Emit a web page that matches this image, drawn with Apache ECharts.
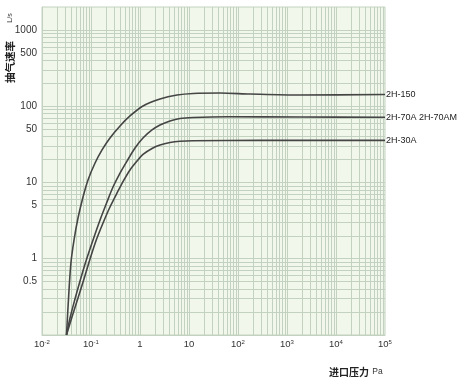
<!DOCTYPE html>
<html>
<head>
<meta charset="utf-8">
<script src="https://cdn.jsdelivr.net/npm/echarts@6/dist/echarts.min.js"></script>
<style>html,body{margin:0;padding:0;background:#fff}#c{width:460px;height:384px}</style>
</head>
<body>
<div id="c"></div>
<script>
// ---- data ----
const seriesNames = ['2H-150', '2H-70A 2H-70AM', '2H-30A'];
const pressure150 = [0.0316, 0.0356, 0.0391, 0.045, 0.0543, 0.0687, 0.0869, 0.121, 0.168, 0.244, 0.391, 0.625, 1.15, 2.56, 5.69, 12.1, 43, 176, 1840, 100000];
const speed150    = [0.1, 0.389, 0.906, 1.76, 3.42, 6.45, 10.8, 18.0, 26.7, 38.3, 55.1, 74.5, 100.7, 124, 140, 147, 149, 144.5, 140, 142.5];
const pressure70  = [0.0316, 0.0373, 0.0471, 0.0597, 0.0791, 0.110, 0.153, 0.212, 0.281, 0.391, 0.543, 0.791, 1.15, 1.76, 2.56, 4.09, 6.55, 12.1, 59.7, 1840, 100000];
const speed70     = [0.1, 0.167, 0.296, 0.511, 0.933, 1.76, 3.22, 5.55, 8.73, 13.3, 19.1, 28.3, 38.3, 48.8, 56.7, 64.0, 69.0, 71.1, 72.6, 72.3, 71.6];
const pressure30  = [0.0316, 0.0409, 0.0543, 0.0719, 0.0955, 0.126, 0.176, 0.244, 0.340, 0.471, 0.625, 0.869, 1.15, 1.76, 2.56, 4.09, 6.55, 12.1, 281, 100000];
const speed30     = [0.1, 0.172, 0.305, 0.542, 0.991, 1.71, 2.94, 4.77, 7.28, 10.8, 14.6, 19.1, 23.3, 27.9, 31.0, 33.4, 34.7, 35.3, 35.6, 35.7];
const yLabelValues = [0.5, 1, 5, 10, 50, 100, 500, 1000];
const xDecades = [-2, -1, 0, 1, 2, 3, 4];
const yDecades = [-1, 0, 1, 2, 3];
const mantissas = [1, 2, 3, 4, 5, 6, 7, 8, 9];

const X_MIN = 0.01, X_MAX = 100000, Y_MIN = 0.1, Y_MAX = 2000;
const sans = "'Liberation Sans', Arial, sans-serif";
const cjk = "'Noto Sans CJK SC', sans-serif";
const gridColor = '#c3d2c0';
const curveColor = '#454545';

function pairs(xs, ys) { return xs.map((x, i) => [x, ys[i]]); }

const vLines = [];
xDecades.forEach(d => mantissas.forEach(m => {
  const v = m * Math.pow(10, d);
  if (v > X_MIN * 1.0001 && v < X_MAX * 0.9999) vLines.push({ xAxis: v });
}));
const hLines = [];
yDecades.forEach(d => mantissas.forEach(m => {
  const v = m * Math.pow(10, d);
  if (v > Y_MIN * 1.0001 && v < Y_MAX * 0.9999) hLines.push({ yAxis: v });
}));

function xLabel(v) {
  const e = Math.round(Math.log10(v));
  if (e === 0) return '1';
  if (e === 1) return '10';
  return '10{s|' + e + '}';
}

function curve(name, xs, ys) {
  return {
    type: 'line', name: name, data: pairs(xs, ys), smooth: 0.3,
    showSymbol: false, symbol: 'none', z: 10,
    lineStyle: { color: curveColor, width: 1.6 },
    endLabel: { show: true, formatter: '{a}', distance: 1, color: '#222', fontSize: 9, fontFamily: sans },
    emphasis: { disabled: true }, animation: false
  };
}

const chart = echarts.init(document.getElementById('c'), null, { renderer: 'canvas' });
chart.setOption({
  backgroundColor: '#ffffff',
  animation: false,
  grid: { left: 42, right: 75, top: 7, bottom: 49, show: true, backgroundColor: '#f1f7ea', borderColor: gridColor, borderWidth: 1, outerBoundsMode: 'none', containLabel: false },
  xAxis: {
    type: 'log', logBase: 10, min: X_MIN, max: X_MAX,
    axisLine: { show: true, lineStyle: { color: gridColor } },
    axisTick: { show: false },
    splitLine: { show: false },
    axisLabel: {
      margin: 4, color: '#333', fontSize: 9.5, fontFamily: sans, formatter: xLabel,
      rich: { s: { fontSize: 6, fontFamily: sans, color: '#333', verticalAlign: 'top', lineHeight: 8 } }
    }
  },
  yAxis: {
    type: 'log', logBase: 10, min: Y_MIN, max: Y_MAX,
    axisLine: { show: true, lineStyle: { color: gridColor } },
    axisTick: { show: false },
    splitLine: { show: false },
    axisLabel: { margin: 5, color: '#333', fontSize: 10, fontFamily: sans, customValues: yLabelValues, formatter: v => String(v) }
  },
  series: [
    {
      type: 'line', data: [], z: 1, silent: true,
      markLine: {
        silent: true, z: 1, symbol: ['none', 'none'], animation: false,
        label: { show: false },
        lineStyle: { color: gridColor, width: 1, type: 'solid' },
        emphasis: { disabled: true },
        data: vLines.concat(hLines)
      }
    },
    curve(seriesNames[0], pressure150, speed150),
    curve(seriesNames[1], pressure70, speed70),
    curve(seriesNames[2], pressure30, speed30)
  ],
  graphic: [
    {
      type: 'text', x: 10, y: 62, rotation: Math.PI / 2,
      style: { text: '抽气速率', align: 'center', verticalAlign: 'middle', fontSize: 10.5, fontWeight: 'bold', fontFamily: cjk, fill: '#222' }
    },
    {
      type: 'text', x: 10, y: 18, rotation: Math.PI / 2,
      style: { text: 'L/s', align: 'center', verticalAlign: 'middle', fontSize: 7, fontFamily: sans, fill: '#333' }
    },
    {
      type: 'text', x: 329, y: 372,
      style: {
        text: '{a|进口压力} {b|Pa}', align: 'left', verticalAlign: 'middle',
        rich: {
          a: { fontSize: 10, fontWeight: 'bold', fontFamily: cjk, fill: '#222' },
          b: { fontSize: 8.5, fontFamily: sans, fill: '#333' }
        }
      }
    }
  ]
});
</script>
</body>
</html>
